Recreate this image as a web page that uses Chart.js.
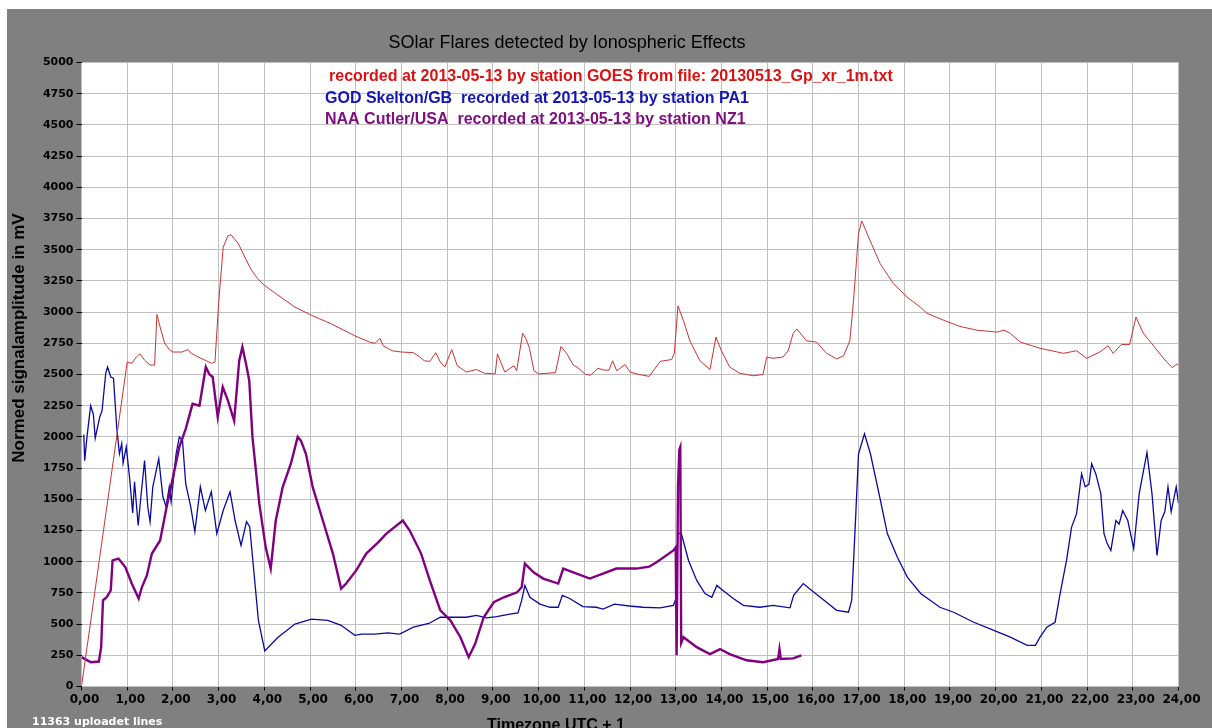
<!DOCTYPE html>
<html>
<head>
<meta charset="utf-8">
<script src="https://cdn.jsdelivr.net/npm/chart.js@4.4.1/dist/chart.umd.min.js"></script>
<style>
  html, body { margin: 0; padding: 0; background: #fff; overflow: hidden; }
  #wrap { width: 1212px; height: 728px; }
</style>
</head>
<body>
<div id="wrap"><canvas id="graph" width="1212" height="728"></canvas></div>
<script>
// GOES x-ray (red)
const goesHours = [0, 1.0, 1.1, 1.2, 1.28, 1.38, 1.5, 1.6, 1.65, 1.72, 1.82, 1.92, 2.0, 2.2, 2.33, 2.4, 2.5, 2.7, 2.85, 2.92,
  3.0, 3.1, 3.2, 3.27, 3.43, 3.6, 3.72, 3.85, 4.0, 4.3, 4.67, 5.03, 5.47, 5.98, 6.3, 6.42, 6.53, 6.6, 6.8, 7.0,
  7.26, 7.4, 7.5, 7.62, 7.75, 7.85, 7.95, 8.1, 8.22, 8.42, 8.64, 8.82, 9.05, 9.1, 9.26, 9.46, 9.52, 9.65, 9.72, 9.8,
  9.9, 10.0, 10.37, 10.49, 10.62, 10.76, 10.84, 11.03, 11.14, 11.3, 11.43, 11.54, 11.62, 11.71, 11.89, 12.0, 12.2, 12.42, 12.66, 12.91,
  12.97, 13.05, 13.17, 13.31, 13.53, 13.75, 13.88, 14.0, 14.18, 14.4, 14.7, 14.91, 14.99, 15.13, 15.35, 15.46, 15.57, 15.65, 15.86, 16.08,
  16.3, 16.52, 16.67, 16.81, 16.89, 17.0, 17.07, 17.25, 17.47, 17.76, 18.06, 18.35, 18.5, 18.86, 19.22, 19.59, 20.03, 20.18, 20.32, 20.54,
  20.97, 21.48, 21.77, 21.99, 22.28, 22.46, 22.57, 22.75, 22.93, 23.07, 23.23, 23.41, 23.67, 23.86, 23.97, 24.0];
const goesValues = [0, 2600, 2590, 2640, 2665, 2615, 2575, 2575, 2980, 2880, 2750, 2700, 2680, 2680, 2700, 2670, 2650, 2615, 2590, 2600,
  3070, 3520, 3610, 3620, 3550, 3420, 3335, 3270, 3215, 3135, 3040, 2975, 2905, 2810, 2760, 2750, 2790, 2730, 2690, 2680,
  2675, 2640, 2610, 2605, 2675, 2600, 2560, 2700, 2570, 2520, 2540, 2510, 2505, 2665, 2520, 2570, 2530, 2830, 2790, 2710,
  2530, 2505, 2515, 2725, 2665, 2575, 2560, 2500, 2495, 2550, 2535, 2535, 2610, 2530, 2580, 2520, 2500, 2485, 2605, 2620,
  2670, 3050, 2930, 2770, 2610, 2540, 2800, 2690, 2560, 2510, 2490, 2500, 2640, 2630, 2640, 2690, 2830, 2865, 2770, 2760,
  2670, 2625, 2650, 2770, 3090, 3630, 3730, 3575, 3390, 3230, 3120, 3040, 2990, 2935, 2885, 2855, 2840, 2855, 2830, 2760,
  2710, 2670, 2690, 2630, 2680, 2730, 2670, 2740, 2740, 2960, 2830, 2750, 2630, 2555, 2585, 2575];

// GOD Skelton/GB (blue)
const godHours = [0.05, 0.07, 0.12, 0.2, 0.26, 0.3, 0.4, 0.45, 0.53, 0.57, 0.64, 0.7, 0.77, 0.83, 0.88, 0.91, 0.98, 1.05, 1.12, 1.16,
  1.24, 1.31, 1.38, 1.45, 1.5, 1.56, 1.69, 1.78, 1.85, 1.92, 1.96, 2.07, 2.14, 2.21, 2.28, 2.39, 2.48, 2.6, 2.71, 2.84,
  2.96, 3.1, 3.25, 3.36, 3.49, 3.61, 3.68, 3.87, 4.01, 4.3, 4.67, 5.03, 5.39, 5.68, 5.98, 6.13, 6.42, 6.7, 6.96, 7.26,
  7.6, 7.85, 8.14, 8.42, 8.64, 8.86, 9.08, 9.37, 9.55, 9.63, 9.7, 9.81, 10.03, 10.25, 10.43, 10.52, 10.68, 10.97, 11.26, 11.41,
  11.66, 11.99, 12.28, 12.66, 12.95, 13.0, 13.05, 13.12, 13.28, 13.46, 13.64, 13.79, 13.9, 14.0, 14.26, 14.48, 14.84, 15.13, 15.5, 15.58,
  15.79, 16.01, 16.3, 16.52, 16.78, 16.85, 16.92, 17.0, 17.13, 17.26, 17.48, 17.63, 17.85, 18.07, 18.36, 18.78, 19.08, 19.52, 19.96, 20.32,
  20.69, 20.87, 20.97, 21.12, 21.3, 21.41, 21.55, 21.66, 21.77, 21.88, 21.96, 22.04, 22.1, 22.19, 22.3, 22.37, 22.44, 22.52, 22.63, 22.7,
  22.78, 22.89, 23.02, 23.14, 23.31, 23.42, 23.53, 23.62, 23.7, 23.77, 23.84, 23.95, 24.0];
const godValues = [2020, 1810, 2000, 2250, 2180, 1990, 2160, 2210, 2510, 2560, 2480, 2470, 2080, 1865, 1945, 1790, 1920, 1680, 1390, 1640,
  1290, 1560, 1810, 1440, 1320, 1600, 1825, 1520, 1440, 1600, 1480, 1865, 2000, 1970, 1625, 1440, 1240, 1600, 1410, 1560,
  1225, 1410, 1560, 1330, 1130, 1320, 1280, 530, 285, 395, 500, 540, 530, 490, 410, 420, 420, 430, 420, 475,
  505, 555, 555, 555, 570, 550, 560, 580, 590, 690, 810, 715, 660, 635, 635, 730, 705, 640, 635, 620,
  660, 645, 635, 630, 650, 700, 1225, 1230, 1010, 850, 745, 715, 810, 780, 705, 650, 635, 650, 630, 730,
  825, 760, 675, 610, 595, 690, 1225, 1865, 2025, 1865, 1490, 1225, 1035, 875, 745, 635, 595, 515, 450, 395,
  330, 330, 395, 475, 515, 745, 1010, 1275, 1385, 1705, 1600, 1620, 1785, 1705, 1545, 1225, 1145, 1090, 1330, 1300,
  1410, 1330, 1105, 1545, 1875, 1545, 1050, 1330, 1400, 1600, 1400, 1600, 1470];

// NAA Cutler/USA (purple)
const naaHours = [0, 0.2, 0.38, 0.43, 0.47, 0.55, 0.64, 0.68, 0.81, 0.96, 1.1, 1.25, 1.32, 1.43, 1.54, 1.72, 1.86, 2.0, 2.14, 2.28,
  2.43, 2.58, 2.72, 2.8, 2.87, 2.98, 3.09, 3.2, 3.34, 3.45, 3.52, 3.6, 3.67, 3.74, 3.89, 4.03, 4.14, 4.25, 4.4, 4.58,
  4.73, 4.8, 4.91, 5.06, 5.28, 5.5, 5.68, 5.79, 6.01, 6.23, 6.49, 6.67, 7.03, 7.18, 7.43, 7.62, 7.85, 8.07, 8.29, 8.47,
  8.61, 8.8, 9.02, 9.24, 9.53, 9.63, 9.7, 9.89, 10.1, 10.43, 10.54, 10.76, 11.12, 11.41, 11.7, 12.14, 12.42, 12.58, 12.95, 13.0,
  13.02, 13.05, 13.08, 13.1, 13.12, 13.17, 13.46, 13.75, 13.97, 14.18, 14.55, 14.91, 15.24, 15.27, 15.3, 15.57, 15.75];
const naaValues = [235, 195, 200, 315, 690, 715, 770, 1010, 1025, 955, 825, 705, 795, 890, 1065, 1170, 1435, 1675, 1920, 2065,
  2265, 2250, 2560, 2500, 2480, 2160, 2400, 2295, 2130, 2610, 2720, 2585, 2450, 2000, 1465, 1115, 945, 1330, 1595, 1785,
  2000, 1970, 1865, 1595, 1330, 1065, 785, 825, 930, 1065, 1155, 1225, 1330, 1250, 1065, 850, 610, 530, 395, 235,
  340, 555, 675, 715, 755, 795, 985, 915, 865, 825, 945, 915, 865, 905, 945, 945, 960, 995, 1090, 1115,
  250, 1600, 1900, 1920, 350, 395, 315, 260, 300, 260, 210, 195, 220, 300, 220, 225, 250];

const titleText = 'SOlar Flares detected by Ionospheric Effects';
const legendLines = [
  ['recorded at 2013-05-13 by station GOES from file: 20130513_Gp_xr_1m.txt', '#dd1111'],
  ['GOD Skelton/GB  recorded at 2013-05-13 by station PA1', '#1515b0'],
  ['NAA Cutler/USA  recorded at 2013-05-13 by station NZ1', '#801080']
];

const pts = (xs, ys) => xs.map((x, i) => ({ x: x, y: ys[i] }));

// background, frame and free texts
const decor = {
  id: 'decor',
  beforeDraw(chart) {
    const { ctx, chartArea: a, width, height } = chart;
    ctx.save();
    ctx.fillStyle = '#fff';
    ctx.fillRect(0, 0, width, height);
    ctx.fillStyle = '#808080';
    ctx.fillRect(7, 9, width - 7, height - 9);
    ctx.fillStyle = '#fff';
    ctx.fillRect(a.left, a.top, a.right - a.left, a.bottom - a.top);
    ctx.restore();
  },
  afterDraw(chart) {
    const ctx = chart.ctx;
    ctx.save();
    ctx.textBaseline = 'middle';
    ctx.fillStyle = '#000';
    ctx.font = '18px "Liberation Sans"';
    ctx.textAlign = 'center';
    ctx.fillText(titleText, 567, 43);

    ctx.textAlign = 'left';
    ctx.font = 'bold 16px "Liberation Sans"';
    const ys = [77, 99, 120];
    const xs = [329, 325, 325];
    legendLines.forEach((l, i) => {
      ctx.fillStyle = l[1];
      ctx.fillText(l[0], xs[i], ys[i]);
    });

    ctx.fillStyle = '#fff';
    ctx.font = 'bold 11px "DejaVu Sans"';
    ctx.fillText('11363 uploadet lines', 32, 722);

    ctx.fillStyle = '#000';
    ctx.font = 'bold 16px "Liberation Sans"';
    ctx.textBaseline = 'alphabetic';
    ctx.fillText('Timezone UTC + 1', 487, 730);

    ctx.font = 'bold 17px "Liberation Sans"';
    ctx.translate(19, 338);
    ctx.rotate(-Math.PI / 2);
    ctx.textAlign = 'center';
    ctx.textBaseline = 'middle';
    ctx.fillText('Normed signalamplitude in mV', 0, 0);
    ctx.restore();
  }
};

new Chart(document.getElementById('graph'), {
  type: 'line',
  data: {
    datasets: [
      { data: pts(goesHours, goesValues), borderColor: '#cc3333', borderWidth: 1 },
      { data: pts(naaHours, naaValues), borderColor: '#800080', borderWidth: 2.4 },
      { data: pts(godHours, godValues), borderColor: '#0a0aa0', borderWidth: 1.3 }
    ]
  },
  options: {
    responsive: false,
    animation: false,
    elements: { point: { radius: 0 }, line: { tension: 0 } },
    layout: { padding: { top: 62.5, right: 33.5, left: 0, bottom: 0 } },
    plugins: { legend: { display: false }, tooltip: { enabled: false }, title: { display: false } },
    scales: {
      x: {
        type: 'linear',
        min: 0,
        max: 24,
        afterFit: (s) => { s.height = 41.5; },
        border: { display: false },
        grid: { color: '#c0c0c0', lineWidth: 1, tickLength: 4, tickColor: '#000' },
        ticks: {
          stepSize: 1,
          autoSkip: false,
          maxRotation: 0,
          padding: 2,
          labelOffset: 3,
          color: '#000',
          font: { family: 'DejaVu Sans', size: 12, weight: 'bold' },
          callback: (v) => v.toFixed(2).replace('.', ',')
        }
      },
      y: {
        min: 0,
        max: 5000,
        afterFit: (s) => { s.width = 81.5; },
        border: { display: false },
        grid: { color: '#c0c0c0', lineWidth: 1, tickLength: 5, tickColor: '#000' },
        ticks: {
          stepSize: 250,
          autoSkip: false,
          padding: 3,
          color: '#000',
          font: { family: 'DejaVu Sans', size: 11, weight: 'bold' },
          callback: (v) => String(v)
        }
      }
    }
  },
  plugins: [decor]
});
</script>
</body>
</html>
